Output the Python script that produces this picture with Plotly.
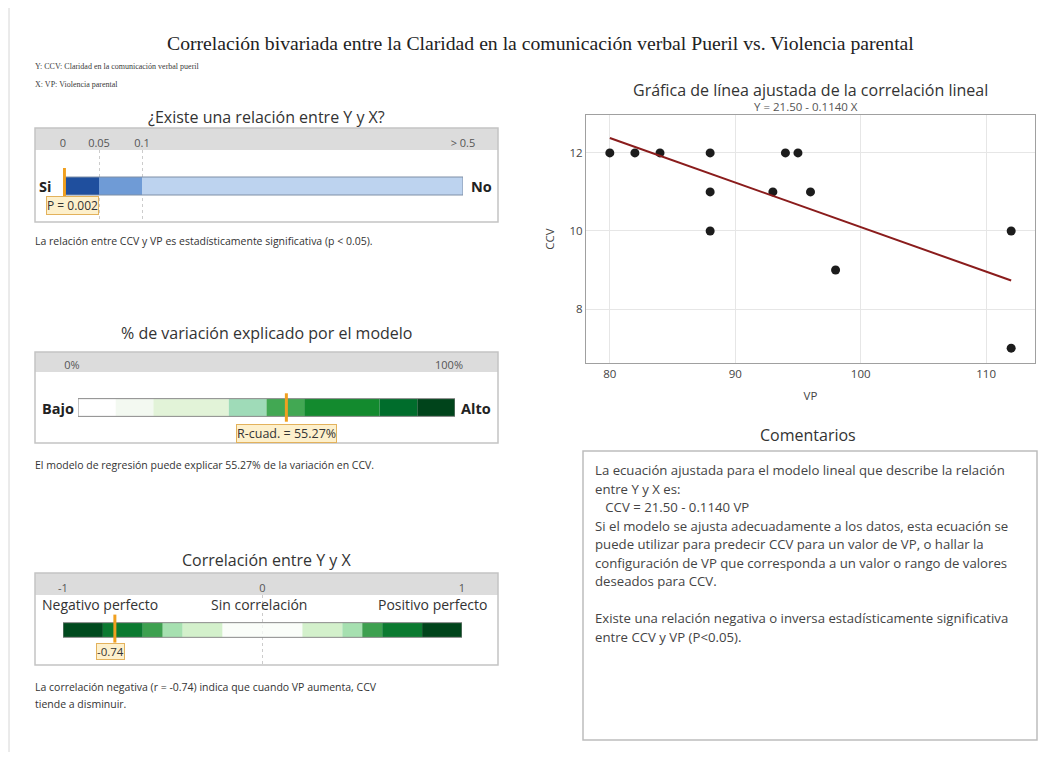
import numpy as np
import plotly.graph_objects as go

# ---------------- data ----------------
VP = [80, 82, 84, 88, 88, 88, 93, 94, 95, 96, 98, 112, 112]
CCV = [12, 12, 12, 12, 11, 10, 11, 12, 12, 11, 9, 10, 7]
INTERCEPT = 21.50
SLOPE = -0.1140
P_VALUE = 0.002
R_SQ = 55.27
R_CORR = -0.74

P_TICK_VALUES = [0, 0.05, 0.1, 0.5]
P_TICK_LABELS = ["0", "0.05", "0.1", "> 0.5"]
P_SCALE_POS = [0, 0.09, 0.1975, 1.0]          # display scale of the p gauge
P_SEG_COLORS = ["#1f4f9e", "#6f9bd6", "#bdd3ef"]

R2_BREAKS = [0, 10, 20, 40, 50, 60, 80, 90, 100]
R2_COLORS = ["#ffffff", "#f3f9f1", "#e2f3d8", "#9fdbb8", "#42a853",
             "#138a2e", "#006d2c", "#00441b"]
R2_TICK_VALUES = [0, 100]
R2_TICK_LABELS = ["0%", "100%"]

R_BREAKS = [-1, -0.8, -0.6, -0.5, -0.4, -0.2, 0, 0.2, 0.4, 0.5, 0.6, 0.8, 1]
R_COLORS = ["#004a1e", "#0b7a30", "#3da04f", "#a6e0b0", "#d3f0cb",
            "#fafdf9", "#fafdf9", "#d3f0cb", "#a6e0b0", "#3da04f", "#0b7a30", "#00441b"]
R_TICK_VALUES = [-1, 0, 1]
R_TICK_LABELS = ["-1", "0", "1"]
R_SCALE_LABELS = ["Negativo perfecto", "Sin correlación", "Positivo perfecto"]
R_SCALE_POS = [-0.815, -0.02, 0.85]

TITLE = "Correlación bivariada entre la Claridad en la comunicación verbal Pueril vs. Violencia parental"
SUB_Y = "Y: CCV: Claridad en la comunicación verbal pueril"
SUB_X = "X: VP: Violencia parental"
COMMENT_LINES = [
    "La ecuación ajustada para el modelo lineal que describe la relación",
    "entre Y y X es:",
    "\u00a0\u00a0\u00a0CCV = 21.50 - 0.1140 VP",
    "Si el modelo se ajusta adecuadamente a los datos, esta ecuación se",
    "puede utilizar para predecir CCV para un valor de VP, o hallar la",
    "configuración de VP que corresponda a un valor o rango de valores",
    "deseados para CCV.",
    "",
    "Existe una relación negativa o inversa estadísticamente significativa",
    "entre CCV y VP (P<0.05).",
]

# ---------------- layout helpers ----------------
OFF = 8                       # page body margin
W, H = 1056 - 2 * OFF, 760 - 2 * OFF
def fx(p): return (p - OFF) / W
def fy(p): return 1 - (p - OFF) / H

SANS = "Open Sans"
SERIF = "Liberation Serif"
ORANGE = "#f0a020"
LBL_BG = "#fdf0cc"
LBL_BORDER = "#e3b25c"
FRAME = "#c4c4c4"
HEADER = "#dcdcdc"

fig = go.Figure()

# ---- scatter + fitted line ----
fig.add_trace(go.Scatter(x=VP, y=CCV, mode="markers",
                         marker=dict(color="#1c1c1c", size=9),
                         xaxis="x", yaxis="y", showlegend=False))
xl = np.array([min(VP), max(VP)])
fig.add_trace(go.Scatter(x=xl, y=INTERCEPT + SLOPE * xl, mode="lines",
                         line=dict(color="#8a1c1c", width=2),
                         xaxis="x", yaxis="y", showlegend=False))

# ---- gauge 1: p value ----
def p_pos(v):
    return float(np.interp(v, P_TICK_VALUES, P_SCALE_POS))

p_starts = [p_pos(v) for v in P_TICK_VALUES[:-1]]
p_ends = [p_pos(v) for v in P_TICK_VALUES[1:]]
fig.add_trace(go.Bar(y=[0.5] * 3, x=[e - s for s, e in zip(p_starts, p_ends)],
                     base=p_starts, orientation="h", width=0.25,
                     marker=dict(color=P_SEG_COLORS, line=dict(width=0)),
                     xaxis="x2", yaxis="y2", showlegend=False))
fig.add_trace(go.Bar(y=[0.5], x=[p_ends[-1] - p_starts[0]], base=[p_starts[0]],
                     orientation="h", width=0.25,
                     marker=dict(color="rgba(0,0,0,0)", line=dict(color="#7f8fa6", width=1)),
                     xaxis="x2", yaxis="y2", showlegend=False))
fig.add_trace(go.Scatter(x=[p_pos(P_VALUE)] * 2, y=[0.33, 0.75], mode="lines",
                         line=dict(color=ORANGE, width=3),
                         xaxis="x2", yaxis="y2", showlegend=False))

# ---- gauge 2: R-squared ----
fig.add_trace(go.Bar(y=[0.5] * (len(R2_BREAKS) - 1),
                     x=np.diff(R2_BREAKS), base=R2_BREAKS[:-1], orientation="h",
                     width=0.25, marker=dict(color=R2_COLORS, line=dict(width=0)),
                     xaxis="x3", yaxis="y3", showlegend=False))
fig.add_trace(go.Bar(y=[0.5], x=[R2_BREAKS[-1] - R2_BREAKS[0]], base=[R2_BREAKS[0]],
                     orientation="h", width=0.25,
                     marker=dict(color="rgba(0,0,0,0)", line=dict(color="#8a8a8a", width=1)),
                     xaxis="x3", yaxis="y3", showlegend=False))
fig.add_trace(go.Scatter(x=[R_SQ] * 2, y=[0.3, 0.7], mode="lines",
                         line=dict(color=ORANGE, width=3),
                         xaxis="x3", yaxis="y3", showlegend=False))

# ---- gauge 3: correlation ----
fig.add_trace(go.Bar(y=[0.5] * (len(R_BREAKS) - 1),
                     x=np.diff(R_BREAKS), base=R_BREAKS[:-1], orientation="h",
                     width=0.21, marker=dict(color=R_COLORS, line=dict(width=0)),
                     xaxis="x4", yaxis="y4", showlegend=False))
fig.add_trace(go.Bar(y=[0.5], x=[R_BREAKS[-1] - R_BREAKS[0]], base=[R_BREAKS[0]],
                     orientation="h", width=0.21,
                     marker=dict(color="rgba(0,0,0,0)", line=dict(color="#8a8a8a", width=1)),
                     xaxis="x4", yaxis="y4", showlegend=False))
fig.add_trace(go.Scatter(x=[R_CORR] * 2, y=[0.32, 0.72], mode="lines",
                         line=dict(color=ORANGE, width=3),
                         xaxis="x4", yaxis="y4", showlegend=False))

# ---------------- axes ----------------
gauge_x = dict(side="top", showline=False, zeroline=False, showgrid=True,
               griddash="dot", gridcolor="#cccccc", gridwidth=1, ticks="",
               tickfont=dict(family=SANS, size=11, color="#555555"), fixedrange=True,
               automargin=False)
gauge_y = dict(range=[0, 1], visible=False, fixedrange=True, automargin=False)

fig.update_layout(
    width=W, height=H, margin=dict(l=0, r=0, t=0, b=0, autoexpand=False),
    paper_bgcolor="white", plot_bgcolor="rgba(0,0,0,0)",
    barmode="overlay", showlegend=False,
    font=dict(family=SANS, color="#333333"),
    xaxis=dict(domain=[fx(586), fx(1035)], range=[78.1, 113.9],
               tickvals=[80, 90, 100, 110], showgrid=True, gridcolor="#e6e6e6",
               zeroline=False, showline=True, linecolor="#a0a0a0", mirror=True,
               ticks="", tickfont=dict(size=11.5, color="#444"), automargin=False,
               title=dict(text="VP", font=dict(size=11.5, color="#444"), standoff=12),
               anchor="y"),
    yaxis=dict(domain=[fy(363), fy(115)], range=[6.62, 12.97],
               tickvals=[8, 10, 12], showgrid=True, gridcolor="#e6e6e6",
               zeroline=False, showline=True, linecolor="#a0a0a0", mirror=True,
               ticks="", tickfont=dict(size=11.5, color="#444"), automargin=False,
               title=dict(text="CCV", font=dict(size=11.5, color="#444"), standoff=12),
               anchor="x"),
    xaxis2=dict(gauge_x, domain=[fx(63), fx(463)], range=[0, 1],
                tickvals=[p_pos(v) for v in P_TICK_VALUES], ticktext=P_TICK_LABELS,
                anchor="y2"),
    yaxis2=dict(gauge_y, domain=[fy(222), fy(150)], anchor="x2"),
    xaxis3=dict(gauge_x, domain=[fx(78), fx(455)], range=[0, 100],
                tickvals=R2_TICK_VALUES, ticktext=R2_TICK_LABELS, ticklabelshift=-6,
                anchor="y3"),
    yaxis3=dict(gauge_y, domain=[fy(443), fy(372)], anchor="x3"),
    xaxis4=dict(gauge_x, domain=[fx(63), fx(462)], range=[-1, 1],
                tickvals=R_TICK_VALUES, ticktext=R_TICK_LABELS, anchor="y4"),
    yaxis4=dict(gauge_y, domain=[fy(665), fy(595)], anchor="x4"),
)

# ---------------- frames ----------------
shapes = [dict(type="line", xref="paper", yref="paper", x0=fx(9), x1=fx(9),
               y0=0, y1=1, line=dict(color="#d6d6d6", width=1))]
for top, hdr, bot in [(128, 150, 222), (352, 372, 443), (573, 595, 665)]:
    shapes.append(dict(type="rect", xref="paper", yref="paper", layer="below",
                       x0=fx(35), x1=fx(498), y0=fy(hdr), y1=fy(top),
                       fillcolor=HEADER, line=dict(width=0)))
    shapes.append(dict(type="rect", xref="paper", yref="paper", layer="below",
                       x0=fx(35), x1=fx(498), y0=fy(bot), y1=fy(top),
                       fillcolor="rgba(0,0,0,0)", line=dict(color=FRAME, width=1.5)))
shapes.append(dict(type="rect", xref="paper", yref="paper", layer="below",
                   x0=fx(583), x1=fx(1037), y0=fy(740), y1=fy(451),
                   fillcolor="rgba(0,0,0,0)", line=dict(color="#bdbdbd", width=1.5)))
fig.update_layout(shapes=shapes)

# ---------------- texts ----------------
ann = []
def text(x, y, s, size, xanchor="center", color="#333333", family=SANS, bold=False, **kw):
    if bold:
        s = "<b>" + s + "</b>"
    ann.append(dict(x=fx(x), y=fy(y), xref="paper", yref="paper", text=s,
                    showarrow=False, xanchor=xanchor, yanchor="middle",
                    font=dict(size=size, color=color, family=family), **kw))

text(540, 43, TITLE, 19.7, family=SERIF, color="#222222")
text(33, 66, SUB_Y, 8, xanchor="left", family=SERIF, color="#3a3a3a")
text(33, 84, SUB_X, 8, xanchor="left", family=SERIF, color="#3a3a3a")

text(266, 117, "¿Existe una relación entre Y y X?", 16, color="#333")
text(53, 186, "Si", 14.5, xanchor="right", bold=True, color="#222")
text(469, 186, "No", 14.5, xanchor="left", bold=True, color="#222")
text(33, 241, "La relación entre CCV y VP es estadísticamente significativa (p < 0.05).",
     10.5, xanchor="left")

text(266, 333, "% de variación explicado por el modelo", 16, color="#333")
text(76, 408, "Bajo", 14.5, xanchor="right", bold=True, color="#222")
text(459, 408, "Alto", 14.5, xanchor="left", bold=True, color="#222")
text(33, 465, "El modelo de regresión puede explicar 55.27% de la variación en CCV.",
     10.5, xanchor="left")

text(266, 560, "Correlación entre Y y X", 16, color="#333")
text(33, 687, "La correlación negativa (r = -0.74) indica que cuando VP aumenta, CCV",
     10.5, xanchor="left")
text(33, 704, "tiende a disminuir.", 10.5, xanchor="left")

text(810, 90, "Gráfica de línea ajustada de la correlación lineal", 16, color="#333")
text(806, 106, f"Y = {INTERCEPT:.2f} - {abs(SLOPE):.4f} X", 11.5, color="#555")
text(808, 435, "Comentarios", 16, color="#333")

for i, line in enumerate(COMMENT_LINES):
    if line:
        text(593, 470 + i * 18.5, line, 13.2, xanchor="left", color="#444")

# gauge value labels (data coords)
def vlabel(xref, yref, x, y, s, size, xshift=0):
    ann.append(dict(x=x, y=y, xref=xref, yref=yref, text=s, showarrow=False,
                    xanchor="center", yanchor="middle", xshift=xshift,
                    font=dict(size=size, color="#333", family=SANS),
                    bgcolor=LBL_BG, bordercolor=LBL_BORDER, borderwidth=1, borderpad=0))

vlabel("x2", "y2", p_pos(P_VALUE), 0.23, f"P = {P_VALUE:.3f}", 12, xshift=8)
vlabel("x3", "y3", R_SQ, 0.13, f"R-cuad. = {R_SQ:.2f}%", 12.5)
vlabel("x4", "y4", R_CORR, 0.2, f"{R_CORR:.2f}", 11.5, xshift=-4)

for lbl, pos in zip(R_SCALE_LABELS, R_SCALE_POS):
    ann.append(dict(x=pos, y=0.86, xref="x4", yref="y4", text=lbl, showarrow=False,
                    xanchor="center", yanchor="middle",
                    font=dict(size=14, color="#333", family=SANS)))

fig.update_layout(annotations=ann)

fig.write_html("out.html")
